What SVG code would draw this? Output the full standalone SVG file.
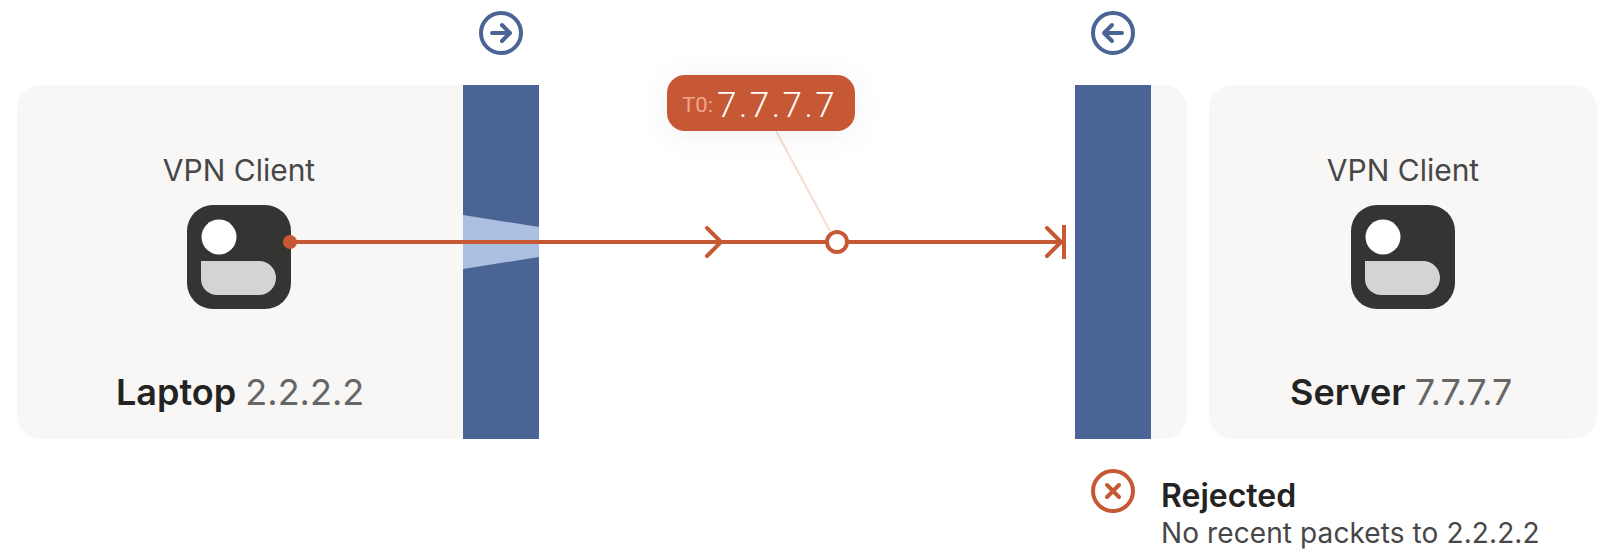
<svg xmlns="http://www.w3.org/2000/svg" width="1618" height="554" viewBox="0 0 1618 554">
<style>
text{font-family:Inter,"Liberation Sans",sans-serif}
.card{fill:#f8f7f5}
.bar{fill:#4a6595}
.role{font-size:30px;fill:#474747;text-anchor:middle}
.name{font-size:36px;font-weight:600;fill:#232323}
.ip{font-weight:400;fill:#666}
.ring{fill:none;stroke-width:4}
.ln{fill:none;stroke:#c75834;stroke-width:4;stroke-linecap:round;stroke-linejoin:round}
.blu{fill:none;stroke:#4a6595;stroke-width:4;stroke-linecap:round;stroke-linejoin:round}
</style>
<defs>
<filter id="sh" x="-30%" y="-60%" width="160%" height="240%"><feDropShadow dx="0" dy="4" stdDeviation="14" flood-color="#000" flood-opacity="0.06"/></filter>
<g id="icon">
<rect x="0" y="0" width="104" height="104" rx="26" fill="#343432"/>
<circle cx="32" cy="32" r="17.5" fill="#fff"/>
<path d="M14 56H72A17 17 0 0 1 72 90H30A16 16 0 0 1 14 74Z" fill="#d4d4d4"/>
</g>
</defs>
<g id="laptop">
<rect class="card" x="17" y="85" width="520" height="354" rx="24"/>
<text class="role" x="239" y="181">VPN Client</text>
<use href="#icon" x="187" y="205"/>
<text class="name" x="116" y="405">Laptop <tspan class="ip">2.2.2.2</tspan></text>
</g>
<g id="firewall-left">
<rect class="bar" x="463" y="85" width="76" height="354"/>
<path d="M463 215L539 227V257L463 269Z" fill="#abbfe0"/>
<circle class="ring" cx="501" cy="33" r="20" stroke="#4a6595"/>
<path class="blu" d="M492 33H510M502 25L510 33L502 41"/>
</g>
<g id="firewall-right">
<path class="card" d="M1100 85H1163A24 24 0 0 1 1187 109V415A24 24 0 0 1 1163 439H1100Z"/>
<rect class="bar" x="1075" y="85" width="76" height="354"/>
<circle class="ring" cx="1113" cy="33" r="20" stroke="#4a6595"/>
<path class="blu" d="M1122 33H1104M1112 25L1104 33L1112 41"/>
</g>
<g id="server">
<rect class="card" x="1209" y="85" width="388" height="354" rx="24"/>
<text class="role" x="1403" y="181">VPN Client</text>
<use href="#icon" x="1351" y="205"/>
<text class="name" x="1290" y="405">Server <tspan class="ip">7.7.7.7</tspan></text>
</g>
<g id="connectors">
<path class="ln" d="M290 242H1064M707 228L721 242L707 256M1047 228L1061 242L1047 256"/>
<path d="M1064 225V259" fill="none" stroke="#c75834" stroke-width="4"/>
<circle cx="290" cy="242" r="7" fill="#c75834"/>
<path d="M776 131L830 231" fill="none" stroke="#f5dcd2" stroke-width="2"/>
<circle cx="837" cy="242" r="10" fill="#fff" stroke="#c75834" stroke-width="4"/>
</g>
<g id="label">
<rect x="667" y="75" width="188" height="56" rx="18" fill="#c75834" filter="url(#sh)"/>
<text x="682" y="112" font-size="21" style="font-family:Roboto,sans-serif" fill="#f0a48e" textLength="31" lengthAdjust="spacingAndGlyphs">T0:</text>
<text x="717" y="117" font-size="35" font-weight="300" style="font-family:Roboto,sans-serif" fill="#fff" letter-spacing="2.5">7.7.7.7</text>
</g>
<g id="status">
<circle class="ring" cx="1113" cy="491" r="20" stroke="#c75834"/>
<path class="ln" d="M1107 485L1119 497M1119 485L1107 497"/>
<text x="1161" y="507" font-size="32" font-weight="600" fill="#232323">Rejected</text>
<text x="1161" y="543" font-size="28" letter-spacing="0.1" fill="#474747">No recent packets to 2.2.2.2</text>
</g>
</svg>
